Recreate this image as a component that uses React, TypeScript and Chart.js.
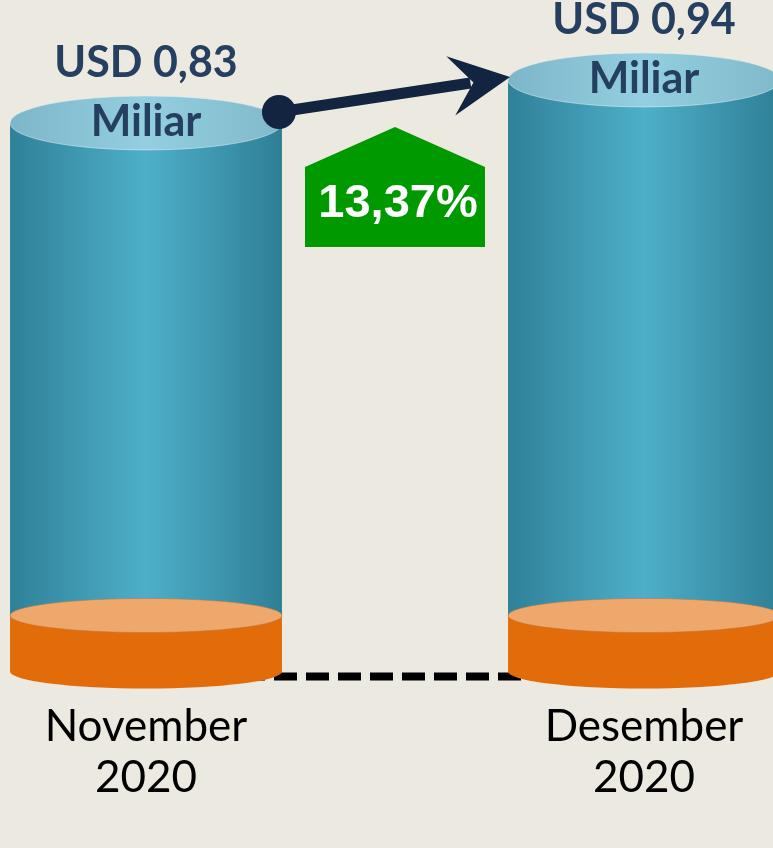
import React, { useEffect, useRef } from 'react';
import { Chart, registerables } from 'chart.js';

Chart.register(...registerables);

// ---- data ----
const categories: string[][] = [['November', '2020'], ['Desember', '2020']];
const values: number[] = [0.83, 0.94];
const currency = 'USD';
const unit = 'Miliar';
const growthLabel = '13,37%';

const Y_MIN = -0.43;
const Y_MAX = 1.0;

const BG = '#ECE9E0';
const LABEL_FONT = 'Lato, "Open Sans", sans-serif';
const VALUE_COLOR = '#243F60';
const ARROW_COLOR = '#12243F';
const GREEN = '#009900';

const fmt = (v: number) => `${currency} ${v.toFixed(2).replace('.', ',')}`;

const cylinderPlugin = {
  id: 'cylinders',
  beforeDraw(chart: any) {
    const { ctx, width, height } = chart;
    ctx.save();
    ctx.fillStyle = BG;
    ctx.fillRect(0, 0, width, height);
    ctx.restore();
  },
  afterDatasetsDraw(chart: any) {
    const { ctx } = chart;
    const meta = chart.getDatasetMeta(0);
    const bars = meta.data.map((b: any) => b.getProps(['x', 'y', 'base', 'width'], true));
    if (bars.length < 2) return;
    ctx.save();

    const baseH = 56;
    const baseRy = 17;
    const topRy = 27;

    // dashed baseline between the cylinders
    ctx.beginPath();
    ctx.setLineDash([23, 9]);
    ctx.lineWidth = 8;
    ctx.strokeStyle = '#000';
    ctx.moveTo(bars[0].x, bars[0].base + baseH + 5);
    ctx.lineTo(bars[1].x, bars[1].base + baseH + 5);
    ctx.stroke();
    ctx.setLineDash([]);

    bars.forEach((b: any) => {
      const rx = b.width / 2;
      const left = b.x - rx;
      const right = b.x + rx;
      // blue body
      const g = ctx.createLinearGradient(left, 0, right, 0);
      g.addColorStop(0, '#2F8198');
      g.addColorStop(0.5, '#4EAFC9');
      g.addColorStop(1, '#2E7F96');
      ctx.fillStyle = g;
      ctx.fillRect(left, b.y, b.width, b.base - b.y);

      // orange base
      ctx.fillStyle = '#E36C0A';
      ctx.fillRect(left, b.base, b.width, baseH);
      ctx.beginPath();
      ctx.ellipse(b.x, b.base + baseH, rx, baseRy, 0, 0, Math.PI * 2);
      ctx.fill();
      ctx.beginPath();
      ctx.ellipse(b.x, b.base, rx, baseRy, 0, 0, Math.PI * 2);
      ctx.fillStyle = '#EFA86C';
      ctx.fill();
      ctx.lineWidth = 1;
      ctx.strokeStyle = 'rgba(180,120,70,0.5)';
      ctx.stroke();

      // top ellipse
      const tg = ctx.createLinearGradient(left, 0, right, 0);
      tg.addColorStop(0, '#7DB6C8');
      tg.addColorStop(0.5, '#93CFE0');
      tg.addColorStop(1, '#80B9CA');
      ctx.beginPath();
      ctx.ellipse(b.x, b.y, rx, topRy, 0, 0, Math.PI * 2);
      ctx.fillStyle = tg;
      ctx.fill();
      ctx.strokeStyle = 'rgba(230,240,245,0.5)';
      ctx.stroke();
    });

    // arrow from first to second top
    const n = bars[0];
    const d = bars[1];
    const sx = n.x + n.width / 2 - 3;
    const sy = n.y - 11;
    const tx = d.x - d.width / 2 + 2;
    const ty = d.y - 3;
    const len = Math.hypot(tx - sx, ty - sy);
    const ux = (tx - sx) / len;
    const uy = (ty - sy) / len;
    const nx = -uy;
    const ny = ux;
    ctx.strokeStyle = ARROW_COLOR;
    ctx.fillStyle = ARROW_COLOR;
    ctx.lineWidth = 11;
    ctx.beginPath();
    ctx.moveTo(sx, sy);
    ctx.lineTo(tx - ux * 40, ty - uy * 40);
    ctx.stroke();
    ctx.beginPath();
    ctx.moveTo(tx, ty);
    ctx.lineTo(tx - ux * 60 - nx * 30, ty - uy * 60 - ny * 30);
    ctx.lineTo(tx - ux * 37, ty - uy * 37);
    ctx.lineTo(tx - ux * 60 + nx * 30, ty - uy * 60 + ny * 30);
    ctx.closePath();
    ctx.fill();
    ctx.beginPath();
    ctx.arc(sx, sy, 17, 0, Math.PI * 2);
    ctx.fill();

    // green growth pentagon
    const cx = (n.x + d.x) / 2;
    const apex = n.y + 4;
    ctx.beginPath();
    ctx.moveTo(cx, apex);
    ctx.lineTo(cx + 90, apex + 40);
    ctx.lineTo(cx + 90, apex + 120);
    ctx.lineTo(cx - 90, apex + 120);
    ctx.lineTo(cx - 90, apex + 40);
    ctx.closePath();
    ctx.fillStyle = GREEN;
    ctx.fill();
    ctx.fillStyle = '#FFFFFF';
    ctx.font = 'bold 47px "Liberation Sans", Arial, sans-serif';
    ctx.textAlign = 'center';
    ctx.textBaseline = 'alphabetic';
    ctx.fillText(growthLabel, cx + 3, apex + 90);

    // value labels
    ctx.fillStyle = VALUE_COLOR;
    ctx.font = `bold 43px ${LABEL_FONT}`;
    bars.forEach((b: any, i: number) => {
      ctx.fillText(fmt(values[i]), b.x, b.y - 46);
      ctx.fillText(unit, b.x, b.y + 13);
    });

    ctx.restore();
  },
};

export default function App() {
  const ref = useRef<HTMLCanvasElement | null>(null);
  useEffect(() => {
    document.body.style.margin = '0';
    document.body.style.background = BG;
    if (!ref.current) return;
    const chart = new Chart(ref.current, {
      type: 'bar',
      data: {
        labels: categories,
        datasets: [
          {
            data: values,
            base: Y_MIN,
            backgroundColor: 'rgba(0,0,0,0)',
            borderWidth: 0,
            barPercentage: 0.546,
            categoryPercentage: 1,
          } as any,
        ],
      },
      options: {
        responsive: false,
        animation: false,
        layout: { autoPadding: false, padding: { top: 56.5, left: 146, right: 129, bottom: 0 } },
        plugins: { legend: { display: false }, tooltip: { enabled: false } },
        scales: {
          x: {
            type: 'category',
            offset: false,
            grid: { display: false, drawTicks: false },
            border: { display: false },
            ticks: {
              color: '#000',
              padding: 86,
              maxRotation: 0,
              minRotation: 0,
              autoSkip: false,
              font: { family: LABEL_FONT, size: 44, lineHeight: 1.16 },
            },
            afterFit: (scale: any) => {
              scale.height = 232.5;
              scale.paddingLeft = 0;
              scale.paddingRight = 0;
            },
          },
          y: { display: false, min: Y_MIN, max: Y_MAX },
        },
      },
      plugins: [cylinderPlugin],
    });
    return () => chart.destroy();
  }, []);
  return (
    <div style={{ width: 773, height: 848 }}>
      <canvas ref={ref} width={773} height={848} style={{ display: 'block' }} />
    </div>
  );
}
